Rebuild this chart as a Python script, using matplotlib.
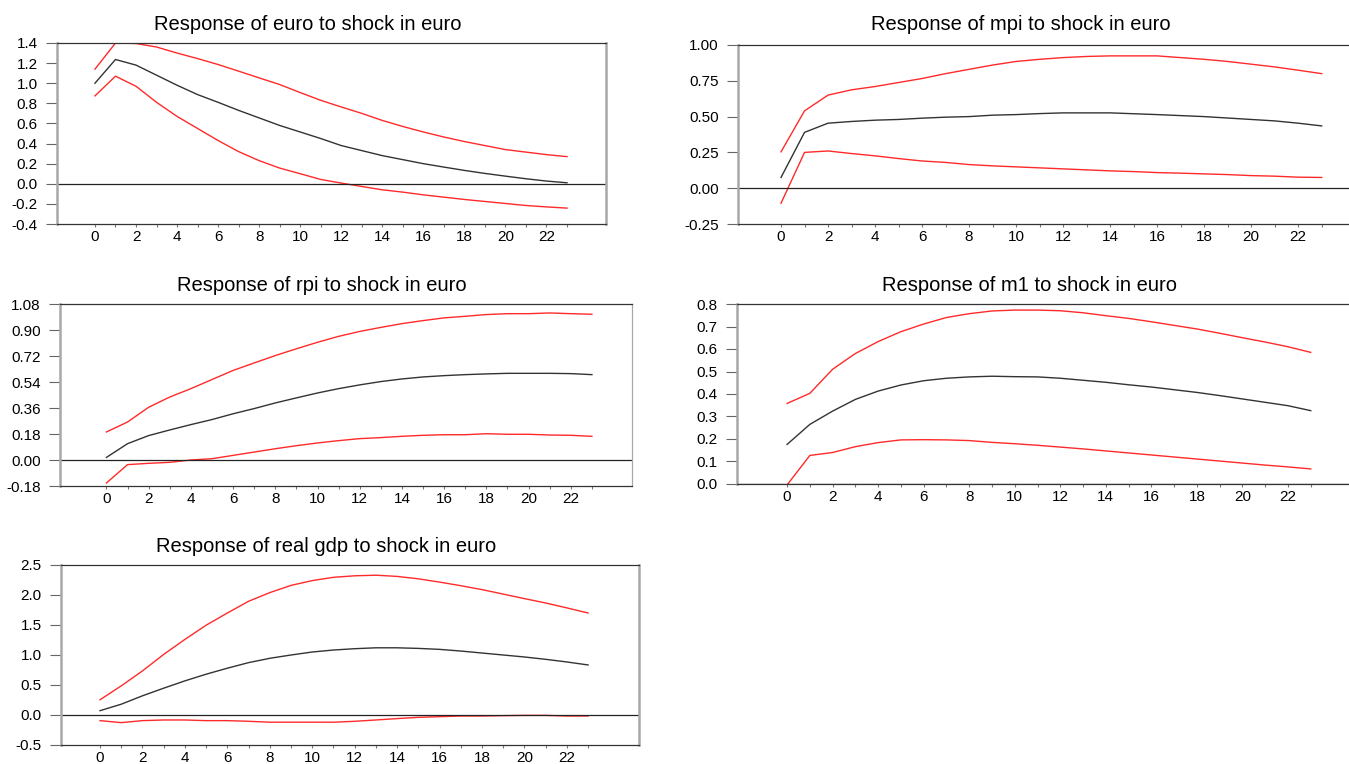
import numpy as np
import matplotlib
matplotlib.use("Agg")
import matplotlib.pyplot as plt
from matplotlib.ticker import FixedLocator

plt.rcParams['font.family'] = ['Liberation Sans', 'DejaVu Sans']

steps = list(range(24))

# response of euro to shock in euro
euro_mid = [1.00, 1.236, 1.18, 1.08, 0.98, 0.887, 0.81, 0.73, 0.655, 0.58, 0.515, 0.45,
            0.38, 0.33, 0.28, 0.24, 0.20, 0.166, 0.133, 0.103, 0.076, 0.05, 0.027, 0.01]
euro_up = [1.14, 1.40, 1.395, 1.36, 1.30, 1.245, 1.186, 1.12, 1.053, 0.987, 0.907, 0.83,
           0.764, 0.70, 0.63, 0.57, 0.515, 0.465, 0.42, 0.38, 0.34, 0.315, 0.29, 0.27]
euro_lo = [0.874, 1.07, 0.97, 0.81, 0.67, 0.55, 0.43, 0.32, 0.23, 0.156, 0.10, 0.043,
           0.007, -0.027, -0.06, -0.083, -0.11, -0.133, -0.156, -0.176, -0.196, -0.216, -0.23, -0.242]

# response of mpi
mpi_mid = [0.075, 0.39, 0.454, 0.466, 0.475, 0.48, 0.489, 0.496, 0.50, 0.51, 0.514, 0.521,
           0.526, 0.526, 0.526, 0.52, 0.514, 0.507, 0.50, 0.49, 0.48, 0.47, 0.454, 0.435]
mpi_up = [0.254, 0.54, 0.65, 0.687, 0.71, 0.738, 0.766, 0.80, 0.83, 0.86, 0.885, 0.90,
          0.912, 0.92, 0.924, 0.924, 0.924, 0.912, 0.90, 0.885, 0.866, 0.847, 0.824, 0.80]
mpi_lo = [-0.105, 0.25, 0.26, 0.242, 0.226, 0.207, 0.19, 0.18, 0.165, 0.156, 0.149, 0.142,
          0.135, 0.128, 0.121, 0.116, 0.109, 0.105, 0.10, 0.095, 0.088, 0.084, 0.077, 0.075]

# response of rpi
rpi_mid = [0.018, 0.113, 0.169, 0.208, 0.245, 0.28, 0.32, 0.356, 0.395, 0.43, 0.464, 0.494,
           0.52, 0.543, 0.561, 0.575, 0.584, 0.591, 0.596, 0.60, 0.60, 0.60, 0.598, 0.591]
rpi_up = [0.194, 0.263, 0.365, 0.436, 0.494, 0.557, 0.62, 0.672, 0.723, 0.77, 0.815, 0.856,
          0.89, 0.918, 0.944, 0.965, 0.984, 0.995, 1.007, 1.013, 1.013, 1.018, 1.013, 1.009]
rpi_lo = [-0.159, -0.032, -0.023, -0.016, 0.0, 0.009, 0.032, 0.055, 0.078, 0.099, 0.118, 0.134,
          0.148, 0.155, 0.164, 0.171, 0.175, 0.175, 0.182, 0.178, 0.178, 0.173, 0.171, 0.164]

# response of m1
m1_mid = [0.176, 0.265, 0.324, 0.376, 0.413, 0.44, 0.459, 0.47, 0.476, 0.479, 0.477, 0.476,
          0.47, 0.461, 0.452, 0.441, 0.431, 0.419, 0.407, 0.393, 0.378, 0.363, 0.348, 0.326]
m1_up = [0.358, 0.403, 0.51, 0.58, 0.633, 0.677, 0.711, 0.74, 0.757, 0.769, 0.773, 0.773,
         0.77, 0.761, 0.748, 0.736, 0.721, 0.705, 0.689, 0.67, 0.65, 0.631, 0.61, 0.585]
m1_lo = [-0.004, 0.127, 0.14, 0.166, 0.184, 0.196, 0.197, 0.196, 0.193, 0.185, 0.179, 0.172,
         0.164, 0.156, 0.147, 0.138, 0.129, 0.12, 0.111, 0.102, 0.093, 0.084, 0.076, 0.067]

# response of real gdp
gdp_mid = [0.072, 0.18, 0.32, 0.447, 0.569, 0.68, 0.78, 0.873, 0.945, 1.0, 1.05, 1.083,
           1.105, 1.12, 1.12, 1.11, 1.094, 1.066, 1.033, 1.0, 0.967, 0.928, 0.884, 0.834]
gdp_up = [0.254, 0.486, 0.735, 1.01, 1.26, 1.497, 1.70, 1.895, 2.04, 2.16, 2.24, 2.295,
          2.32, 2.33, 2.31, 2.27, 2.215, 2.155, 2.09, 2.015, 1.94, 1.867, 1.785, 1.70]
gdp_lo = [-0.094, -0.127, -0.094, -0.083, -0.083, -0.094, -0.094, -0.105, -0.12, -0.12, -0.12, -0.12,
          -0.105, -0.083, -0.06, -0.039, -0.028, -0.017, -0.017, -0.011, -0.006, -0.006, -0.017, -0.017]

W, H = 1349, 764

# (title, mid, up, lo, yticks, fmt, box px (left, right, top, bottom), xlim, title centre px, right spine width)
panels = [
    ("Response of euro to shock in euro", euro_mid, euro_up, euro_lo,
     np.arange(-0.4, 1.41, 0.2), "%.1f", (57, 606, 43, 224), (-1.85, 24.9), (308, 24), 1.8),
    ("Response of mpi to shock in euro", mpi_mid, mpi_up, mpi_lo,
     np.arange(-0.25, 1.01, 0.25), "%.2f", (738, 1364, 45, 224), (-1.83, 24.8), (1021, 25), 1.8),
    ("Response of rpi to shock in euro", rpi_mid, rpi_up, rpi_lo,
     np.arange(-0.18, 1.09, 0.18), "%.2f", (60, 632, 304, 486), (-2.2, 24.9), (322, 285), 0.9),
    ("Response of m1 to shock in euro", m1_mid, m1_up, m1_lo,
     np.arange(0.0, 0.81, 0.1), "%.1f", (737, 1354, 304, 484), (-2.2, 24.9), (1029, 285), 1.8),
    ("Response of real gdp to shock in euro", gdp_mid, gdp_up, gdp_lo,
     np.arange(-0.5, 2.51, 0.5), "%.1f", (61, 639, 565, 745), (-1.84, 25.4), (326, 547), 1.8),
]

fig = plt.figure(figsize=(W / 100, H / 100), dpi=100)

for title, mid, up, lo, yt, fmt, box, xl, tc, rw in panels:
    l, r, t, b = box
    ax = fig.add_axes([l / W, 1 - b / H, (r - l) / W, (b - t) / H])
    ax.plot(steps, up, color="#ff2a2a", lw=1.0)
    ax.plot(steps, lo, color="#ff2a2a", lw=1.0)
    ax.plot(steps, mid, color="#333333", lw=1.0)
    ax.axhline(0, color="#222222", lw=0.9)
    ax.set_xlim(*xl)
    ax.set_ylim(yt[0], yt[-1])
    ax.set_yticks(yt)
    labels = []
    for v in yt:
        if abs(v) < 1e-9:
            v = 0.0
        labels.append(fmt % v)
    ax.set_yticklabels(labels)
    ax.xaxis.set_major_locator(FixedLocator(list(range(0, 24, 2))))
    ax.xaxis.set_minor_locator(FixedLocator(list(range(1, 24, 2))))
    ax.tick_params(axis="x", which="both", length=2.5, width=0.8, color="#777777",
                   labelsize=11, pad=1.5)
    ax.tick_params(axis="y", length=8, width=0.8, color="#666666", labelsize=11, pad=6)
    ax.spines["left"].set_color("#a8a8a8")
    ax.spines["left"].set_linewidth(1.8)
    ax.spines["right"].set_color("#a8a8a8")
    ax.spines["right"].set_linewidth(rw)
    ax.spines["top"].set_color("#333333")
    ax.spines["top"].set_linewidth(0.9)
    ax.spines["bottom"].set_color("#333333")
    ax.spines["bottom"].set_linewidth(0.9)
    fig.text(tc[0] / W, 1 - tc[1] / H, title, ha="center", va="center", fontsize=14.5)

plt.savefig("out.png", dpi=100)
